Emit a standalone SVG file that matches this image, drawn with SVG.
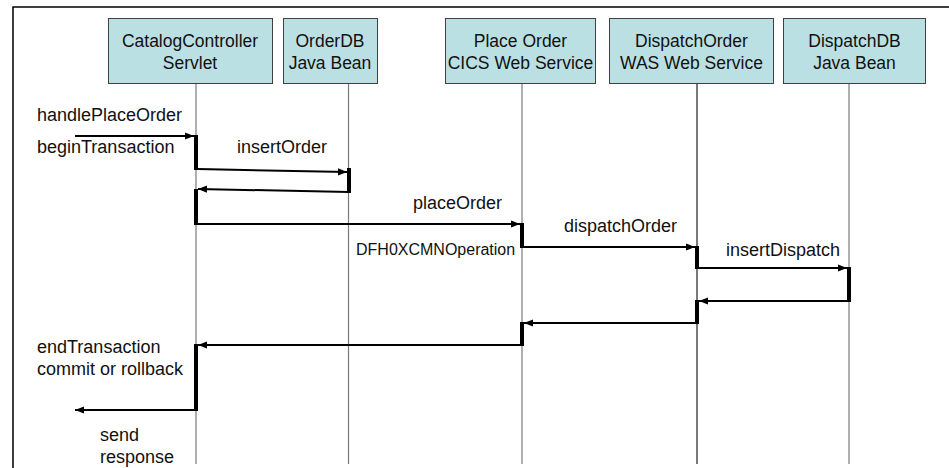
<svg xmlns="http://www.w3.org/2000/svg" width="949" height="468" viewBox="0 0 949 468">
<defs>
<style>
.box{fill:#bbe0e3;stroke:#404040;stroke-width:1}
.bt{font-family:"Liberation Sans",Arial,sans-serif;font-size:17.5px;fill:#111;text-anchor:middle}
.lbl{font-family:"Liberation Sans",Arial,sans-serif;font-size:18px;fill:#111}
.small{font-size:16px}
.life{stroke:#7a7a7a;stroke-width:1.2}
.life2{stroke:#202020;stroke-width:1.2}
.msg{stroke:#000;stroke-width:2;fill:none;marker-end:url(#ah)}
.bar{stroke:#000;stroke-width:4;stroke-linecap:butt}
</style>
<marker id="ah" viewBox="0 0 10 10" refX="10" refY="5" markerUnits="userSpaceOnUse" markerWidth="9" markerHeight="9" orient="auto"><path d="M0,1 L10,5 L0,9 z" fill="#000"/></marker>
</defs>
<rect width="949" height="468" fill="#fff"/>
<path d="M13,468 V7 H949" stroke="#000" stroke-width="1.5" fill="none"/>

<g id="servlet">
<line class="life" x1="196" y1="83" x2="196" y2="464"/>
<rect class="box" x="108.5" y="18.5" width="164" height="65"/>
<text class="bt" x="190" y="47">CatalogController</text>
<text class="bt" x="190" y="69">Servlet</text>
</g>
<g id="orderdb">
<line class="life" x1="348.5" y1="83" x2="348.5" y2="464"/>
<rect class="box" x="283.5" y="18.5" width="94" height="65"/>
<text class="bt" x="330" y="47">OrderDB</text>
<text class="bt" x="330" y="69">Java Bean</text>
</g>
<g id="placeorder">
<line class="life" x1="522" y1="83" x2="522" y2="464"/>
<rect class="box" x="445.5" y="18.5" width="150" height="65"/>
<text class="bt" x="520.5" y="47">Place Order</text>
<text class="bt" x="520.5" y="69">CICS Web Service</text>
</g>
<g id="dispatchorder">
<line class="life2" x1="697" y1="83" x2="697" y2="464"/>
<rect class="box" x="609.5" y="18.5" width="164" height="65"/>
<text class="bt" x="691.5" y="47">DispatchOrder</text>
<text class="bt" x="691.5" y="69">WAS Web Service</text>
</g>
<g id="dispatchdb">
<line class="life" x1="849" y1="83" x2="849" y2="464"/>
<rect class="box" x="783.5" y="18.5" width="142" height="65"/>
<text class="bt" x="854.5" y="47">DispatchDB</text>
<text class="bt" x="854.5" y="69">Java Bean</text>
</g>

<g id="connectors">
<line class="bar" x1="196" y1="135" x2="196" y2="170"/>
<line class="bar" x1="349" y1="168" x2="349" y2="193"/>
<line class="bar" x1="196" y1="189" x2="196" y2="225"/>
<line class="bar" x1="522" y1="223" x2="522" y2="248"/>
<line class="bar" x1="697" y1="246" x2="697" y2="269"/>
<line class="bar" x1="849" y1="267" x2="849" y2="302"/>
<line class="bar" x1="697" y1="300" x2="697" y2="324"/>
<line class="bar" x1="522" y1="322" x2="522" y2="346"/>
<line class="bar" x1="196" y1="344" x2="196" y2="411"/>
<path class="msg" d="M75,136 H194"/>
<path class="msg" d="M198,169 L347,172"/>
<path class="msg" d="M349,192 L198,189"/>
<path class="msg" d="M198,224 H520"/>
<path class="msg" d="M522,247 H695"/>
<path class="msg" d="M697,268 H847"/>
<path class="msg" d="M849,301 H699"/>
<path class="msg" d="M697,323 H524"/>
<path class="msg" d="M522,345 H198"/>
<path class="msg" d="M196,410 H75"/>
</g>

<g id="labels">
<text class="lbl" x="37" y="121">handlePlaceOrder</text>
<text class="lbl" x="37" y="153">beginTransaction</text>
<text class="lbl" x="237" y="153">insertOrder</text>
<text class="lbl" x="413" y="209">placeOrder</text>
<text class="lbl" x="564" y="232">dispatchOrder</text>
<text class="lbl small" x="356" y="255">DFH0XCMNOperation</text>
<text class="lbl" x="726" y="256">insertDispatch</text>
<text class="lbl" x="37" y="353">endTransaction</text>
<text class="lbl" x="37" y="375">commit or rollback</text>
<text class="lbl" x="100" y="441">send</text>
<text class="lbl" x="100" y="463">response</text>
</g>
</svg>
